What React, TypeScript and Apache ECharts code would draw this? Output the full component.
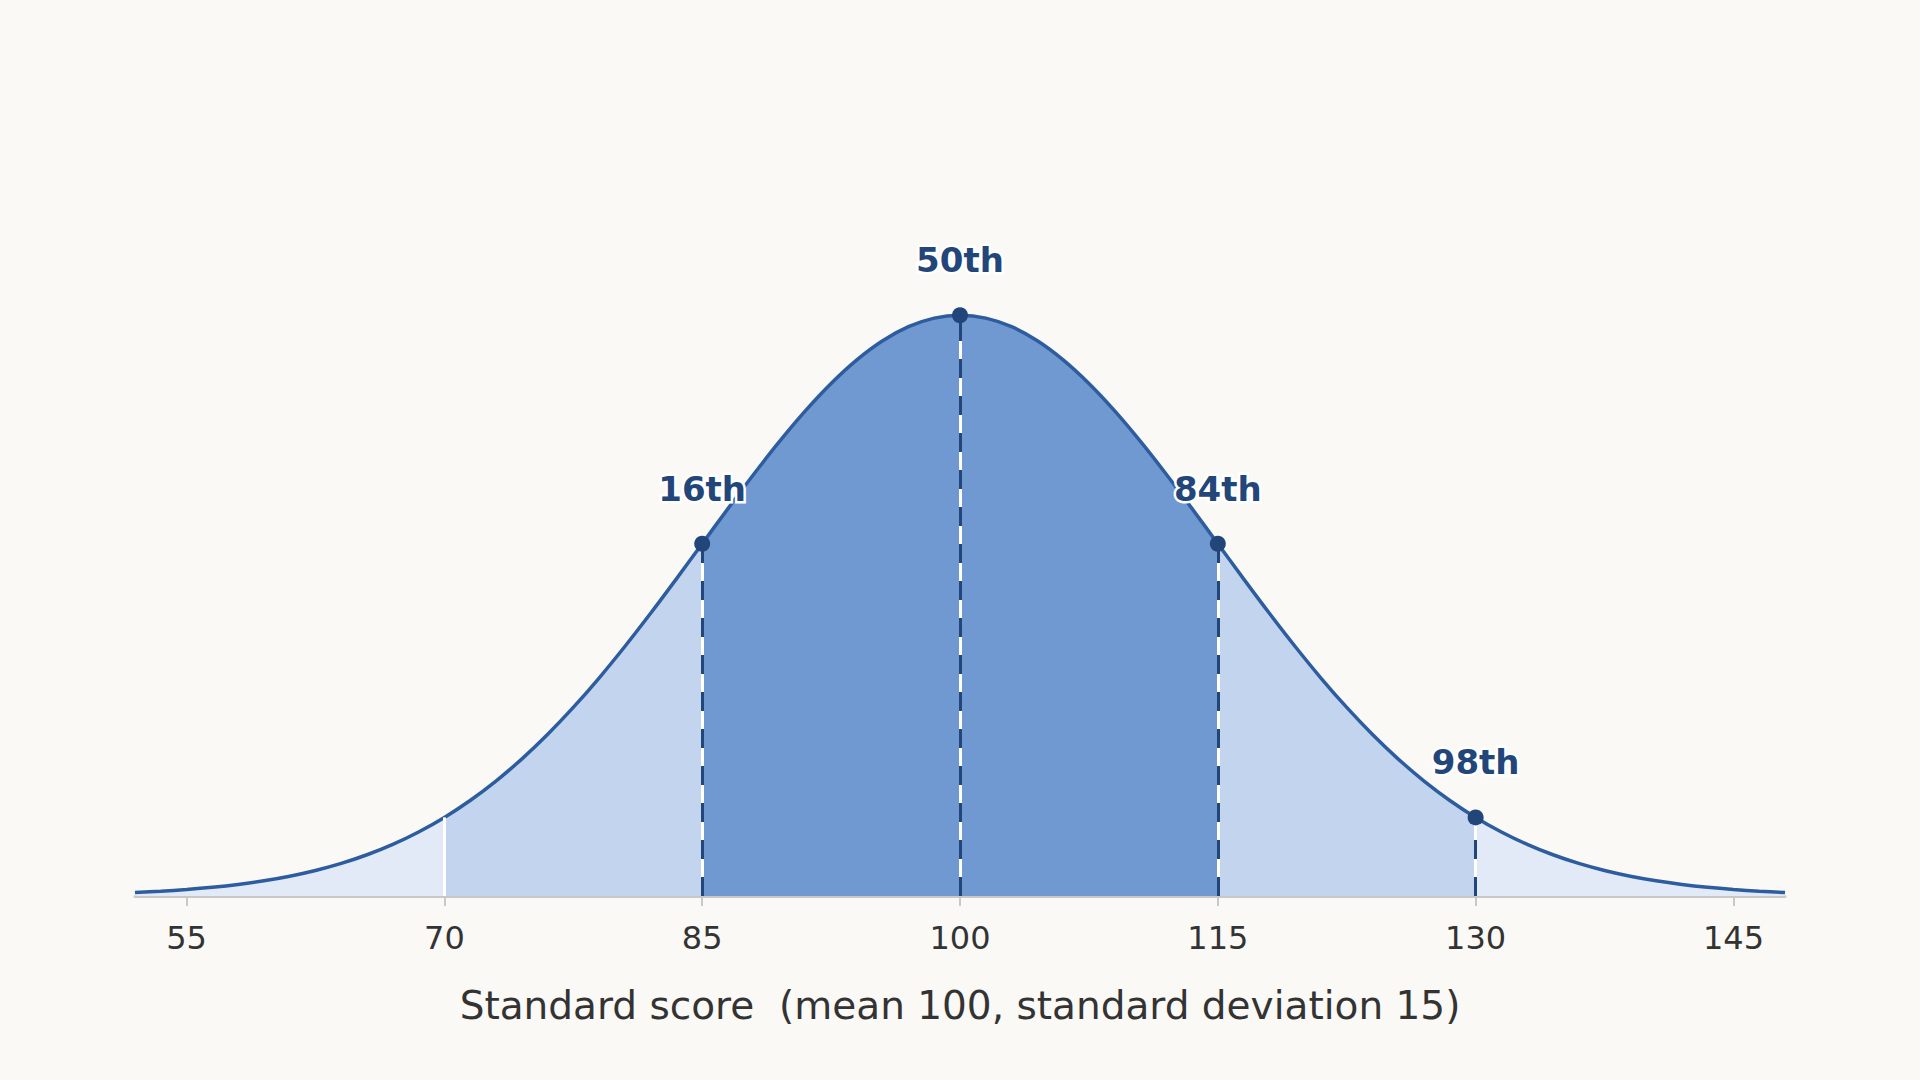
import React, { useEffect, useRef } from "react";
import * as echarts from "echarts";

// standard scores along the curve (step 1.5) and relative density
const scores = [
  52, 53.5, 55, 56.5, 58, 59.5, 61, 62.5, 64, 65.5, 67, 68.5, 70, 71.5, 73,
  74.5, 76, 77.5, 79, 80.5, 82, 83.5, 85, 86.5, 88, 89.5, 91, 92.5, 94, 95.5,
  97, 98.5, 100, 101.5, 103, 104.5, 106, 107.5, 109, 110.5, 112, 113.5, 115,
  116.5, 118, 119.5, 121, 122.5, 124, 125.5, 127, 128.5, 130, 131.5, 133,
  134.5, 136, 137.5, 139, 140.5, 142, 143.5, 145, 146.5, 148,
];
const heights = [
  0.00598, 0.00819, 0.01111, 0.01492, 0.01984, 0.02612, 0.03405, 0.04394,
  0.05613, 0.07101, 0.08892, 0.11025, 0.13534, 0.16447, 0.1979, 0.23575,
  0.27804, 0.32465, 0.37531, 0.42956, 0.48675, 0.54607, 0.60653, 0.66698,
  0.72615, 0.7827, 0.83527, 0.8825, 0.92312, 0.956, 0.9802, 0.99501, 1,
  0.99501, 0.9802, 0.956, 0.92312, 0.8825, 0.83527, 0.7827, 0.72615, 0.66698,
  0.60653, 0.54607, 0.48675, 0.42956, 0.37531, 0.32465, 0.27804, 0.23575,
  0.1979, 0.16447, 0.13534, 0.11025, 0.08892, 0.07101, 0.05613, 0.04394,
  0.03405, 0.02612, 0.01984, 0.01492, 0.01111, 0.00819, 0.00598,
];

const bandEdges = [70, 85, 115, 130];
const bandColors = ["#e2eaf7", "#c3d5ee", "#7099d2", "#c3d5ee", "#e2eaf7"];
const guideScores = [70, 85, 100, 115, 130];
const percentileScores = [85, 100, 115, 130];
const percentileLabels = ["16th", "50th", "84th", "98th"];
const tickValues = [55, 70, 85, 100, 115, 130, 145];

const FONT = "DejaVu Sans";
const DARK = "#23467a";
const LINE = "#2e5d9f";

const heightAt = (x: number) => heights[scores.indexOf(x)];

const App = () => {
  const chartRef = useRef<HTMLDivElement>(null);

  useEffect(() => {
    if (!chartRef.current) return;
    document.body.style.margin = "0";

    const chart = echarts.init(chartRef.current, undefined, { renderer: "svg" });

    const xMin = scores[0];
    const xMax = scores[scores.length - 1];
    const stops: { offset: number; color: string }[] = [];
    let prev = 0;
    bandColors.forEach((c, i) => {
      const end = i < bandEdges.length ? (bandEdges[i] - xMin) / (xMax - xMin) : 1;
      stops.push({ offset: prev, color: c });
      stops.push({ offset: end, color: c });
      prev = end;
    });

    const curve = scores.map((x, i) => [x, heights[i]]);

    const option: echarts.EChartsOption = {
      animation: false,
      backgroundColor: "#faf9f6",
      grid: { left: 135, right: 135, top: 170, bottom: 184 },
      xAxis: {
        type: "value",
        min: xMin,
        max: xMax,
        name: "Standard score  (mean 100, standard deviation 15)",
        nameLocation: "middle",
        nameGap: 90,
        nameTextStyle: { fontFamily: FONT, fontSize: 39, color: "#333333" },
        axisLine: { show: true, lineStyle: { color: "#c8c8c8", width: 3 } },
        axisTick: {
          show: true,
          customValues: tickValues,
          length: 10,
          lineStyle: { color: "#c8c8c8", width: 2 },
        },
        axisLabel: {
          customValues: tickValues,
          fontFamily: FONT,
          fontSize: 32,
          color: "#333333",
          margin: 26,
        },
        splitLine: { show: false },
      },
      yAxis: {
        type: "value",
        min: 0,
        max: 1.25,
        show: false,
        splitLine: { show: false },
      },
      series: [
        {
          type: "line",
          data: curve,
          smooth: 0.3,
          showSymbol: false,
          silent: true,
          z: 1,
          lineStyle: { opacity: 0 },
          areaStyle: {
            opacity: 1,
            color: new echarts.graphic.LinearGradient(0, 0, 1, 0, stops),
          },
        },
        {
          type: "line",
          data: [],
          silent: true,
          z: 2,
          markLine: {
            silent: true,
            symbol: ["none", "none"],
            label: { show: false },
            lineStyle: { color: "#ffffff", width: 3, type: "solid", opacity: 1 },
            data: guideScores.map((x) => [
              { coord: [x, 0] },
              { coord: [x, heightAt(x)] },
            ]) as any,
          },
        },
        {
          type: "line",
          data: [],
          silent: true,
          z: 3,
          markLine: {
            silent: true,
            symbol: ["none", "none"],
            label: { show: false },
            lineStyle: { color: DARK, width: 3, type: [19, 18], opacity: 1 },
            data: percentileScores.map((x) => [
              { coord: [x, 0] },
              { coord: [x, heightAt(x)] },
            ]) as any,
          },
        },
        {
          type: "line",
          data: curve,
          smooth: 0.3,
          showSymbol: false,
          silent: true,
          z: 4,
          lineStyle: { color: LINE, width: 3.5 },
        },
        {
          type: "scatter",
          z: 5,
          data: percentileScores.map((x, i) => ({
            value: [x, heightAt(x)],
            name: percentileLabels[i],
          })),
          symbolSize: 16,
          itemStyle: { color: DARK, opacity: 1 },
          label: {
            show: true,
            position: "top",
            distance: 30,
            formatter: (p: any) => p.name,
            fontFamily: FONT,
            fontSize: 34,
            fontWeight: "bold",
            color: DARK,
            textBorderColor: "#ffffff",
            textBorderWidth: 5,
          },
        },
      ],
    };

    chart.setOption(option);

    return () => {
      chart.dispose();
    };
  }, []);

  return <div ref={chartRef} style={{ width: 1920, height: 1080 }} />;
};

export default App;
